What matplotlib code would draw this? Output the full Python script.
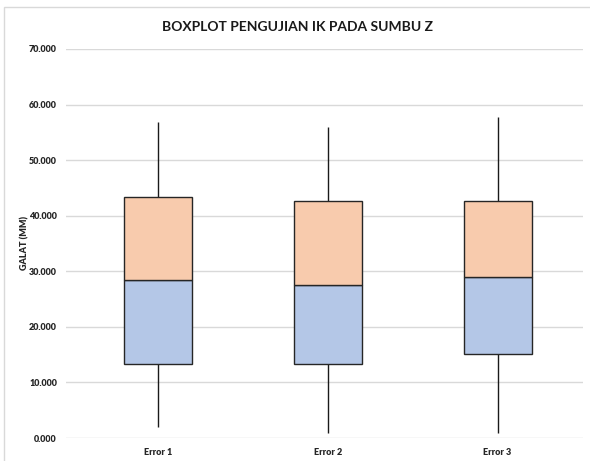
import numpy as np
import matplotlib
matplotlib.use("Agg")
import matplotlib.pyplot as plt
from matplotlib.patches import Rectangle

plt.rcParams['font.family'] = ['Lato', 'DejaVu Sans']

# Ringkasan statistik galat per kategori
categories = ['Error 1', 'Error 2', 'Error 3']
minimum = [1.9, 0.9, 0.9]
quartile1 = [13.4, 13.4, 15.2]
median = [28.4, 27.5, 29.0]
quartile3 = [43.4, 42.7, 42.7]
maximum = [56.9, 55.9, 57.8]

blue = '#B4C7E7'
orange = '#F8CBAD'

fig = plt.figure(figsize=(5.90, 4.61), dpi=100)
ax = fig.add_axes([66 / 590, 1 - 438 / 461, (582.5 - 66) / 590, (438 - 49) / 461])

# bingkai chart (abu-abu tipis)
fig.patches.append(Rectangle((4 / 590, -0.1), 1.2, 1 - 7 / 461 + 0.1,
                             transform=fig.transFigure, fill=False,
                             edgecolor='#d9d9d9', linewidth=1.0))

x = np.arange(len(categories))
q1 = np.array(quartile1)
med = np.array(median)
q3 = np.array(quartile3)

# whisker dari minimum ke maksimum
ax.vlines(x, minimum, maximum, color='#1a1a1a', linewidth=1.0, zorder=2)

# kotak bawah (Q1 - median) dan kotak atas (median - Q3)
ax.bar(x, med - q1, bottom=q1, width=0.4, color=blue,
       edgecolor='#262626', linewidth=1.0, zorder=3)
ax.bar(x, q3 - med, bottom=med, width=0.4, color=orange,
       edgecolor='#262626', linewidth=1.0, zorder=3)

ax.set_xlim(-0.54, 2.5)
ax.set_ylim(0, 70)
ax.grid(axis='y', color='#d9d9d9', linewidth=1.0, zorder=0)
ax.set_axisbelow(True)
for s in ax.spines.values():
    s.set_visible(False)
ax.tick_params(axis='both', length=0, colors='#262626')
ax.tick_params(axis='y', pad=6.5)
ax.tick_params(axis='x', pad=7)

yt = np.arange(0, 71, 10)
ax.set_yticks(yt)
ax.set_yticklabels([f'{v:.3f}' for v in yt], fontsize=6.5, fontweight='heavy')
ax.set_xticks(x)
ax.set_xticklabels(categories, fontsize=6.5, fontweight='heavy')

ax.set_ylabel('GALAT (MM)', fontsize=6.5, fontweight='heavy', color='#262626', labelpad=0)

fig.text(0.505, 1 - 27 / 461, 'BOXPLOT PENGUJIAN IK PADA SUMBU Z',
         ha='center', va='center', fontsize=10, fontweight='bold', color='#1a1a1a')

fig.savefig('out.png', dpi=100)
